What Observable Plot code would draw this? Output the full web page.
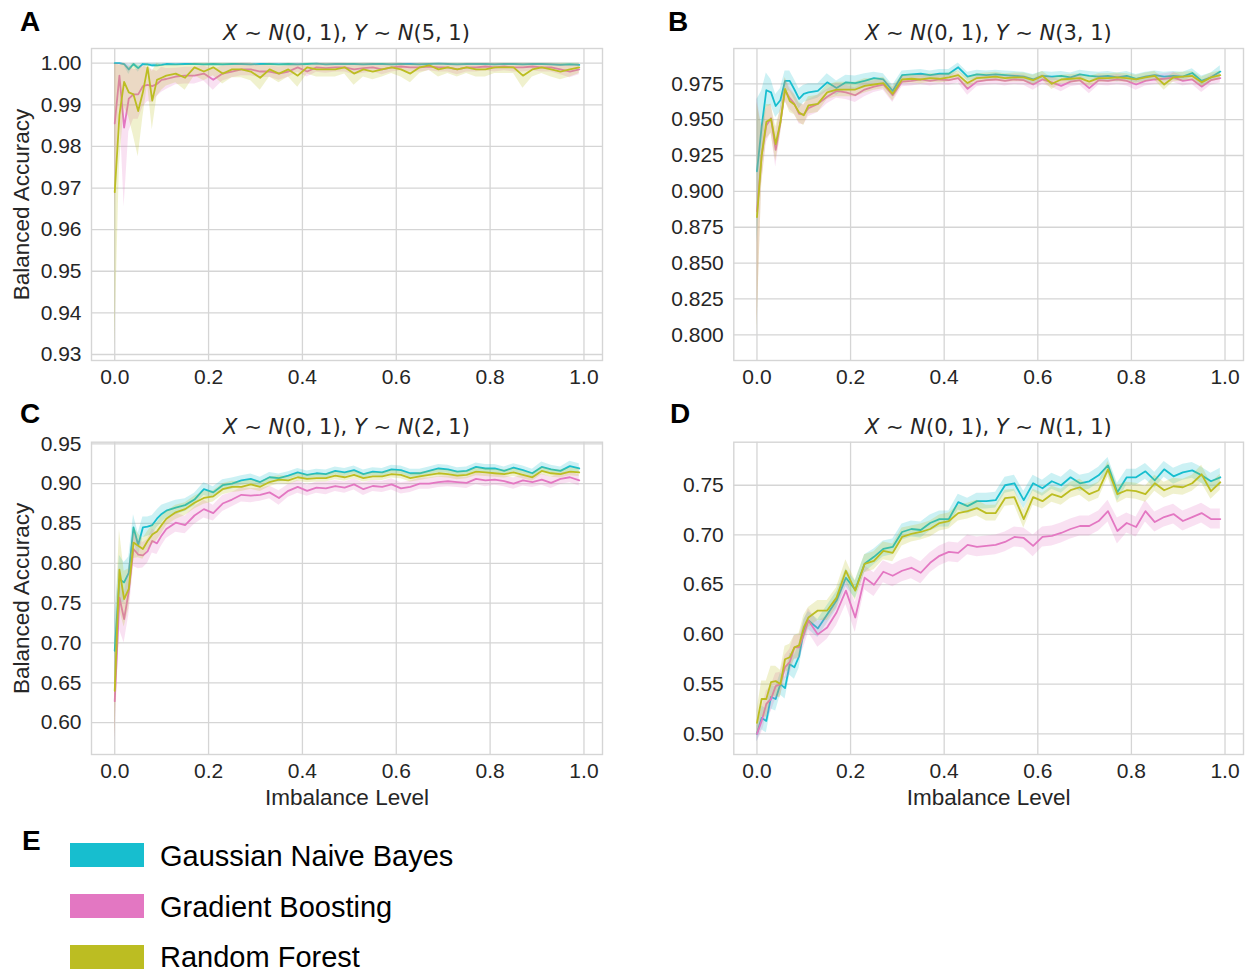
<!DOCTYPE html>
<html><head><meta charset="utf-8">
<script src="https://cdn.jsdelivr.net/npm/d3@7"></script>
<script src="https://cdn.jsdelivr.net/npm/@observablehq/plot@0.6"></script>
<style>
body{margin:0;background:#fff;}
#fig{position:relative;width:1249px;height:972px;overflow:hidden;background:#fff;font-family:"Liberation Sans",Arial,sans-serif;}
.panel{position:absolute;}
.letter{position:absolute;font-weight:bold;font-size:28px;line-height:1;color:#000;}
.title{position:absolute;font-family:"DejaVu Sans";font-size:21px;line-height:1;color:#262626;white-space:nowrap;transform:translateX(-50%);}
.sw{position:absolute;width:74px;height:24px;}
.lt{position:absolute;font-size:29px;line-height:24px;height:24px;color:#000;white-space:nowrap;}
</style></head>
<body><div id="fig"></div>
<script>
// x grid (imbalance level)
const X = [0,0.01,0.02,0.03,0.04,0.05,0.06,0.07,0.08,0.09,0.10,
 0.11,0.13,0.15,0.17,0.19,0.21,0.23,0.25,0.27,0.29,0.31,0.33,0.35,0.37,0.39,0.41,0.43,0.45,0.47,0.49,
 0.51,0.53,0.55,0.57,0.59,0.61,0.63,0.65,0.67,0.69,0.71,0.73,0.75,0.77,0.79,0.81,0.83,0.85,0.87,0.89,
 0.91,0.93,0.95,0.97,0.99];
const models = ["Gaussian Naive Bayes","Gradient Boosting","Random Forest"];
const colors = ["#17becf","#e377c2","#bcbd22"];
const xTicks = [0,0.2,0.4,0.6,0.8,1.0];
const titles = [["0, 1","5, 1"],["0, 1","3, 1"],["0, 1","2, 1"],["0, 1","1, 1"]];
const yTicksA = [0.93,0.94,0.95,0.96,0.97,0.98,0.99,1.00];
const yTicksB = [0.800,0.825,0.850,0.875,0.900,0.925,0.950,0.975];
const yTicksC = [0.60,0.65,0.70,0.75,0.80,0.85,0.90,0.95];
const yTicksD = [0.50,0.55,0.60,0.65,0.70,0.75];

// ---- Panel A: X~N(0,1), Y~N(5,1)
const A_GNB = [1.000,1.000,0.9998,0.9985,0.9998,0.9988,0.9998,0.9997,0.9995,0.9995,0.9996,
 0.9998,0.9997,0.9998,0.9998,0.9997,0.9998,0.9997,0.9998,0.9998,0.9997,0.9998,0.9998,0.9997,0.9998,0.9997,
 0.9998,0.9999,0.9997,0.9998,0.9998,0.9998,0.9997,0.9998,0.9998,0.9997,0.9998,0.9998,0.9997,0.9998,0.9999,
 0.9998,0.9997,0.9998,0.9998,0.9998,0.9997,0.9998,0.9998,0.9997,0.9998,0.9998,0.9997,0.9996,0.9997,0.9996];
const A_GNB_ERR = [0.0003,0.0003,0.0004,0.0012,0.0005,0.001,0.0004,0.0004,0.0005,0.0005,0.0004,
 0.0003,0.0003,0.0003,0.0003,0.0003,0.0003,0.0003,0.0003,0.0003,0.0003,0.0003,0.0003,0.0003,0.0003,0.0003,
 0.0003,0.0003,0.0003,0.0003,0.0003,0.0003,0.0003,0.0003,0.0003,0.0003,0.0003,0.0003,0.0003,0.0003,0.0003,
 0.0003,0.0003,0.0003,0.0003,0.0003,0.0003,0.0003,0.0003,0.0003,0.0003,0.0003,0.0003,0.0004,0.0003,0.0004];
const A_GB = [0.9855,0.997,0.9845,0.9915,0.9925,0.9925,0.9945,0.9948,0.9945,0.995,0.996,
 0.9962,0.9968,0.997,0.997,0.9975,0.996,0.9975,0.998,0.9985,0.9985,0.998,0.998,0.9975,0.998,0.999,
 0.998,0.999,0.9988,0.999,0.999,0.9985,0.9988,0.999,0.9985,0.999,0.9992,0.999,0.999,0.9992,0.999,
 0.999,0.9985,0.999,0.999,0.9992,0.999,0.9992,0.999,0.999,0.9992,0.999,0.999,0.9985,0.998,0.9985];
const A_GB_ERR = [0.02,0.006,0.019,0.008,0.006,0.006,0.005,0.004,0.004,0.003,0.003,
 0.0025,0.002,0.002,0.002,0.0018,0.0025,0.0018,0.0015,0.0015,0.0015,0.0015,0.0014,0.0016,0.0014,0.0012,
 0.0013,0.0012,0.0012,0.0011,0.0011,0.0013,0.0012,0.0011,0.0013,0.0011,0.001,0.0011,0.0011,0.001,0.0011,
 0.0011,0.0013,0.0011,0.0011,0.001,0.0011,0.001,0.0011,0.0011,0.001,0.0011,0.0011,0.0013,0.0015,0.0013];
const A_RF = [0.969,0.9875,0.9955,0.993,0.9925,0.9885,0.993,0.999,0.991,0.996,0.9965,
 0.997,0.9975,0.9965,0.999,0.998,0.999,0.9975,0.9985,0.9985,0.998,0.9965,0.9985,0.9975,0.9985,0.997,
 0.999,0.9985,0.9985,0.9985,0.999,0.9975,0.9985,0.998,0.9985,0.999,0.9985,0.9975,0.999,0.9995,0.9985,
 0.999,0.9985,0.999,0.9985,0.9985,0.999,0.999,0.999,0.997,0.9985,0.999,0.9985,0.998,0.9985,0.999];
const A_RF_ERR = [0.037,0.012,0.006,0.006,0.01,0.011,0.006,0.004,0.007,0.004,0.003,
 0.0025,0.0022,0.003,0.002,0.0022,0.002,0.0025,0.002,0.002,0.0022,0.003,0.0018,0.0022,0.0018,0.0028,
 0.0016,0.0018,0.0018,0.0018,0.0016,0.0028,0.0018,0.002,0.0018,0.0015,0.0018,0.0022,0.0015,0.0012,0.0018,
 0.0015,0.0018,0.0015,0.0018,0.0018,0.0015,0.0015,0.0015,0.003,0.0018,0.0015,0.0018,0.002,0.0018,0.0015];

// ---- Panel B: X~N(0,1), Y~N(3,1)
const B_GNB = [0.914,0.945,0.9705,0.969,0.9595,0.9635,0.977,0.977,0.971,0.9645,0.968,
 0.969,0.970,0.976,0.972,0.976,0.9755,0.977,0.979,0.978,0.970,0.981,0.9815,0.982,0.981,0.982,
 0.982,0.9865,0.980,0.9815,0.981,0.9815,0.981,0.9805,0.980,0.978,0.9805,0.980,0.9805,0.9795,0.9815,
 0.9805,0.980,0.9805,0.9795,0.9805,0.9785,0.980,0.981,0.980,0.9805,0.980,0.9825,0.977,0.9795,0.9835];
const B_GNB_ERR = [0.05,0.025,0.012,0.009,0.008,0.008,0.007,0.007,0.007,0.007,0.006,
 0.006,0.005,0.006,0.005,0.005,0.005,0.005,0.004,0.004,0.004,0.003,0.003,0.003,0.003,0.003,
 0.003,0.003,0.003,0.003,0.003,0.003,0.003,0.003,0.003,0.0035,0.003,0.003,0.003,0.003,0.003,
 0.003,0.003,0.003,0.003,0.003,0.003,0.003,0.003,0.003,0.003,0.003,0.003,0.0035,0.003,0.004];
const B_GB = [0.886,0.925,0.946,0.951,0.929,0.948,0.9705,0.965,0.961,0.954,0.9535,
 0.958,0.961,0.966,0.970,0.969,0.967,0.971,0.973,0.9745,0.967,0.9765,0.977,0.978,0.977,0.978,
 0.9775,0.979,0.9715,0.9765,0.9775,0.978,0.977,0.978,0.9775,0.9745,0.978,0.976,0.9735,0.9765,0.9775,
 0.972,0.9775,0.977,0.978,0.977,0.9745,0.977,0.978,0.9785,0.9795,0.977,0.978,0.973,0.9775,0.979];
const B_GB_ERR = [0.08,0.02,0.012,0.01,0.012,0.009,0.008,0.008,0.007,0.007,0.007,
 0.006,0.006,0.005,0.005,0.005,0.005,0.005,0.004,0.004,0.005,0.0035,0.0035,0.0035,0.0035,0.0035,
 0.0035,0.0035,0.0045,0.0035,0.0035,0.0035,0.0035,0.0035,0.0035,0.004,0.0035,0.0035,0.004,0.0035,0.0035,
 0.004,0.0035,0.0035,0.0035,0.0035,0.004,0.0035,0.0035,0.0035,0.0035,0.0035,0.0035,0.004,0.0035,0.0035];
const B_RF = [0.882,0.925,0.9485,0.9505,0.933,0.948,0.9715,0.963,0.9605,0.955,0.953,
 0.960,0.961,0.969,0.971,0.971,0.971,0.9735,0.9745,0.9755,0.968,0.978,0.9785,0.978,0.979,0.9785,
 0.9795,0.981,0.9755,0.979,0.9795,0.980,0.979,0.9795,0.9795,0.9775,0.9805,0.975,0.978,0.9785,0.979,
 0.9765,0.979,0.979,0.9795,0.979,0.978,0.9795,0.9805,0.9745,0.9795,0.980,0.9805,0.976,0.9795,0.981];
const B_RF_ERR = [0.08,0.02,0.012,0.01,0.012,0.009,0.008,0.008,0.007,0.007,0.007,
 0.006,0.006,0.005,0.005,0.005,0.005,0.005,0.004,0.004,0.005,0.003,0.003,0.003,0.003,0.003,
 0.003,0.003,0.004,0.003,0.003,0.003,0.003,0.003,0.003,0.0035,0.003,0.004,0.003,0.003,0.003,
 0.0035,0.003,0.003,0.003,0.003,0.003,0.003,0.003,0.004,0.003,0.003,0.003,0.0035,0.003,0.003];

// ---- Panel C: X~N(0,1), Y~N(2,1)
const C_GNB = [0.690,0.780,0.776,0.788,0.845,0.823,0.845,0.846,0.848,0.856,0.862,
 0.866,0.870,0.873,0.880,0.893,0.889,0.898,0.900,0.904,0.906,0.902,0.908,0.907,0.910,0.914,
 0.911,0.913,0.912,0.916,0.914,0.917,0.912,0.915,0.914,0.918,0.917,0.913,0.913,0.916,0.919,
 0.918,0.915,0.916,0.921,0.919,0.919,0.916,0.920,0.917,0.913,0.921,0.918,0.916,0.922,0.919];
const C_GNB_ERR = [0.04,0.03,0.025,0.02,0.016,0.015,0.013,0.012,0.012,0.011,0.011,
 0.009,0.009,0.008,0.008,0.008,0.007,0.007,0.007,0.006,0.006,0.006,0.006,0.005,0.005,0.005,
 0.005,0.005,0.005,0.005,0.005,0.005,0.005,0.005,0.005,0.005,0.005,0.005,0.005,0.005,0.005,
 0.005,0.005,0.005,0.005,0.005,0.005,0.005,0.005,0.005,0.005,0.006,0.005,0.005,0.006,0.006];
const C_GB = [0.627,0.757,0.730,0.765,0.818,0.811,0.810,0.815,0.828,0.825,0.835,
 0.843,0.851,0.848,0.860,0.868,0.863,0.875,0.880,0.886,0.885,0.886,0.889,0.882,0.891,0.896,
 0.891,0.895,0.894,0.897,0.895,0.899,0.893,0.897,0.896,0.899,0.894,0.896,0.900,0.900,0.902,
 0.903,0.902,0.901,0.906,0.904,0.905,0.903,0.900,0.904,0.902,0.905,0.901,0.906,0.908,0.904];
const C_GB_ERR = [0.05,0.04,0.03,0.03,0.022,0.018,0.016,0.015,0.015,0.014,0.013,
 0.012,0.012,0.011,0.011,0.011,0.01,0.01,0.009,0.009,0.009,0.008,0.008,0.009,0.008,0.008,
 0.007,0.007,0.008,0.007,0.007,0.007,0.008,0.007,0.007,0.007,0.007,0.007,0.007,0.007,0.007,
 0.007,0.007,0.007,0.007,0.008,0.007,0.007,0.007,0.007,0.007,0.007,0.007,0.007,0.007,0.007];
const C_RF = [0.640,0.792,0.755,0.768,0.826,0.822,0.818,0.828,0.836,0.840,0.848,
 0.856,0.864,0.868,0.876,0.882,0.884,0.893,0.896,0.896,0.899,0.896,0.902,0.905,0.904,0.908,
 0.906,0.907,0.907,0.910,0.908,0.911,0.907,0.909,0.909,0.912,0.911,0.907,0.909,0.911,0.913,
 0.912,0.910,0.911,0.915,0.914,0.913,0.912,0.914,0.911,0.908,0.916,0.913,0.912,0.915,0.914];
const C_RF_ERR = [0.06,0.05,0.035,0.025,0.02,0.015,0.013,0.012,0.012,0.011,0.011,
 0.009,0.009,0.008,0.008,0.008,0.007,0.007,0.007,0.006,0.006,0.006,0.006,0.005,0.005,0.005,
 0.005,0.005,0.005,0.005,0.005,0.005,0.005,0.005,0.005,0.005,0.005,0.005,0.005,0.005,0.005,
 0.005,0.005,0.005,0.005,0.005,0.005,0.005,0.005,0.005,0.005,0.005,0.005,0.005,0.005,0.005];

// ---- Panel D: X~N(0,1), Y~N(1,1)
const D_GNB = [0.500,0.516,0.513,0.537,0.535,0.550,0.546,0.570,0.567,0.578,0.604,
 0.614,0.606,0.620,0.634,0.657,0.645,0.671,0.678,0.686,0.688,0.703,0.706,0.705,0.712,0.716,
 0.716,0.733,0.729,0.734,0.734,0.735,0.750,0.752,0.735,0.752,0.747,0.754,0.750,0.758,0.752,
 0.754,0.760,0.770,0.743,0.758,0.758,0.764,0.755,0.766,0.759,0.763,0.765,0.760,0.754,0.758];
const D_GNB_ERR = [0.008,0.012,0.012,0.012,0.012,0.011,0.011,0.011,0.012,0.012,0.011,
 0.009,0.009,0.009,0.009,0.009,0.009,0.009,0.008,0.008,0.008,0.008,0.008,0.008,0.008,0.008,
 0.008,0.008,0.008,0.008,0.008,0.008,0.008,0.008,0.009,0.008,0.008,0.008,0.008,0.008,0.008,
 0.008,0.008,0.008,0.009,0.008,0.008,0.008,0.008,0.008,0.008,0.008,0.008,0.008,0.008,0.009];
const D_GB = [0.500,0.513,0.530,0.535,0.548,0.550,0.567,0.572,0.587,0.587,0.600,
 0.614,0.600,0.607,0.622,0.644,0.617,0.657,0.650,0.663,0.659,0.664,0.667,0.662,0.672,0.679,
 0.683,0.682,0.690,0.688,0.689,0.690,0.693,0.698,0.697,0.689,0.698,0.699,0.702,0.706,0.709,
 0.709,0.714,0.724,0.704,0.712,0.708,0.724,0.713,0.718,0.721,0.714,0.718,0.722,0.716,0.716];
const D_GB_ERR = [0.008,0.012,0.013,0.013,0.013,0.012,0.012,0.013,0.012,0.012,0.013,
 0.012,0.013,0.012,0.013,0.014,0.015,0.012,0.012,0.011,0.011,0.011,0.011,0.011,0.01,0.01,
 0.01,0.01,0.01,0.01,0.01,0.01,0.01,0.01,0.01,0.011,0.01,0.01,0.01,0.01,0.01,
 0.01,0.01,0.011,0.013,0.01,0.01,0.011,0.01,0.01,0.01,0.01,0.01,0.01,0.01,0.01];
const D_RF = [0.511,0.535,0.535,0.552,0.553,0.550,0.575,0.577,0.587,0.589,0.607,
 0.617,0.624,0.624,0.637,0.664,0.644,0.671,0.674,0.684,0.682,0.698,0.701,0.703,0.706,0.712,
 0.714,0.722,0.724,0.727,0.722,0.722,0.737,0.738,0.716,0.738,0.734,0.741,0.738,0.745,0.748,
 0.741,0.745,0.766,0.741,0.745,0.744,0.741,0.752,0.745,0.749,0.748,0.752,0.761,0.744,0.753];
const D_RF_ERR = [0.012,0.018,0.018,0.016,0.015,0.014,0.013,0.013,0.012,0.012,0.012,
 0.01,0.01,0.01,0.01,0.011,0.01,0.009,0.009,0.009,0.009,0.009,0.008,0.008,0.008,0.008,
 0.008,0.008,0.008,0.008,0.008,0.008,0.008,0.008,0.009,0.008,0.008,0.008,0.008,0.008,0.008,
 0.008,0.008,0.008,0.009,0.008,0.008,0.008,0.008,0.008,0.008,0.008,0.008,0.009,0.008,0.008];

const fig = document.getElementById("fig");
const FG = "#262626", GRID = "#d5d5d5";

function rows(mean, err) {
  return X.map((x, i) => ({x, m: mean[i], lo: mean[i] - err[i], hi: Math.min(1, mean[i] + err[i])}));
}

function panel(o) {
  const marks = [
    Plot.gridX(xTicks, {stroke: GRID, strokeOpacity: 1, strokeWidth: 1.3}),
    Plot.gridY(o.yticks, {stroke: GRID, strokeOpacity: 1, strokeWidth: 1.3}),
    Plot.frame({stroke: GRID, strokeWidth: 1.4})
  ];
  o.series.forEach((s, k) => {
    const data = rows(s[0], s[1]);
    marks.push(Plot.areaY(data, {x: "x", y1: "lo", y2: "hi", fill: colors[k], fillOpacity: 0.22}));
    marks.push(Plot.lineY(data, {x: "x", y: "m", stroke: colors[k], strokeWidth: 1.8}));
  });
  marks.push(Plot.axisX(xTicks, {tickSize: 0, tickPadding: 9, tickFormat: d3.format(".1f"), label: null, fill: FG}));
  marks.push(Plot.axisY(o.yticks, {tickSize: 0, tickPadding: 10, tickFormat: d3.format(o.yfmt), label: null, fill: FG}));
  if (o.ylabel) marks.push(Plot.text([o.ylabel], {text: d => d, frameAnchor: "left", dx: -63, rotate: -90, lineAnchor: "bottom", textAnchor: "middle", fontSize: 22.5, fill: FG}));
  if (o.xlabel) marks.push(Plot.text([o.xlabel], {text: d => d, frameAnchor: "bottom", dy: 50, lineAnchor: "bottom", textAnchor: "middle", fontSize: 22.5, fill: FG}));
  const svg = Plot.plot({
    width: o.w, height: o.h,
    marginLeft: o.ml, marginRight: o.mr, marginTop: o.mt, marginBottom: o.mb,
    x: {domain: [-0.0495, 1.0395]},
    y: {domain: o.ydomain},
    style: {fontFamily: '"Liberation Sans", Arial, sans-serif', fontSize: "21px", color: FG, background: "transparent", overflow: "visible"},
    marks
  });
  const div = document.createElement("div");
  div.className = "panel";
  div.style.left = o.left + "px"; div.style.top = o.top + "px";
  div.appendChild(svg);
  fig.appendChild(div);
}

panel({left: 0, top: 0, w: 625, h: 410, ml: 91, mr: 23, mt: 48, mb: 50, ydomain: [0.92856, 1.00353], yticks: yTicksA, yfmt: ".2f",
  series: [[A_GNB, A_GNB_ERR], [A_GB, A_GB_ERR], [A_RF, A_RF_ERR]], ylabel: "Balanced Accuracy"});
panel({left: 640, top: 0, w: 609, h: 410, ml: 93.3, mr: 6, mt: 48, mb: 50, ydomain: [0.7821, 0.9996], yticks: yTicksB, yfmt: ".3f",
  series: [[B_GNB, B_GNB_ERR], [B_GB, B_GB_ERR], [B_RF, B_RF_ERR]]});
panel({left: 0, top: 420, w: 625, h: 400, ml: 91, mr: 23, mt: 21.7, mb: 66, ydomain: [0.5600, 0.9520], yticks: yTicksC, yfmt: ".2f",
  series: [[C_GNB, C_GNB_ERR], [C_GB, C_GB_ERR], [C_RF, C_RF_ERR]], ylabel: "Balanced Accuracy", xlabel: "Imbalance Level"});
panel({left: 640, top: 420, w: 609, h: 400, ml: 93.3, mr: 6, mt: 21.7, mb: 66, ydomain: [0.4792, 0.7933], yticks: yTicksD, yfmt: ".2f",
  series: [[D_GNB, D_GNB_ERR], [D_GB, D_GB_ERR], [D_RF, D_RF_ERR]], xlabel: "Imbalance Level"});

// titles
const titlePos = [[346.5, 23.2], [988.3, 23.2], [346.5, 416.5], [988.3, 416.5]];
titles.forEach((t, i) => {
  const d = document.createElement("div");
  d.className = "title";
  d.style.left = titlePos[i][0] + "px"; d.style.top = titlePos[i][1] + "px";
  d.innerHTML = `<i>X</i> ∼ <i>N</i>(${t[0]}), <i>Y</i> ∼ <i>N</i>(${t[1]})`;
  fig.appendChild(d);
});

// panel letters
const letters = [["A", 20, 8], ["B", 668, 8], ["C", 20, 399.5], ["D", 670, 399.5], ["E", 22, 827]];
letters.forEach(([s, x, y]) => {
  const d = document.createElement("div");
  d.className = "letter"; d.textContent = s;
  d.style.left = x + "px"; d.style.top = y + "px";
  fig.appendChild(d);
});

// legend
const legTop = [843, 894, 945];
const legTextTop = [844, 894.8, 944.6];
models.forEach((m, i) => {
  const r = document.createElement("div");
  r.className = "sw"; r.style.left = "70px"; r.style.top = legTop[i] + "px"; r.style.background = colors[i];
  fig.appendChild(r);
  const t = document.createElement("div");
  t.className = "lt"; t.textContent = m;
  t.style.left = "160px"; t.style.top = legTextTop[i] + "px";
  fig.appendChild(t);
});
</script>
</body></html>
